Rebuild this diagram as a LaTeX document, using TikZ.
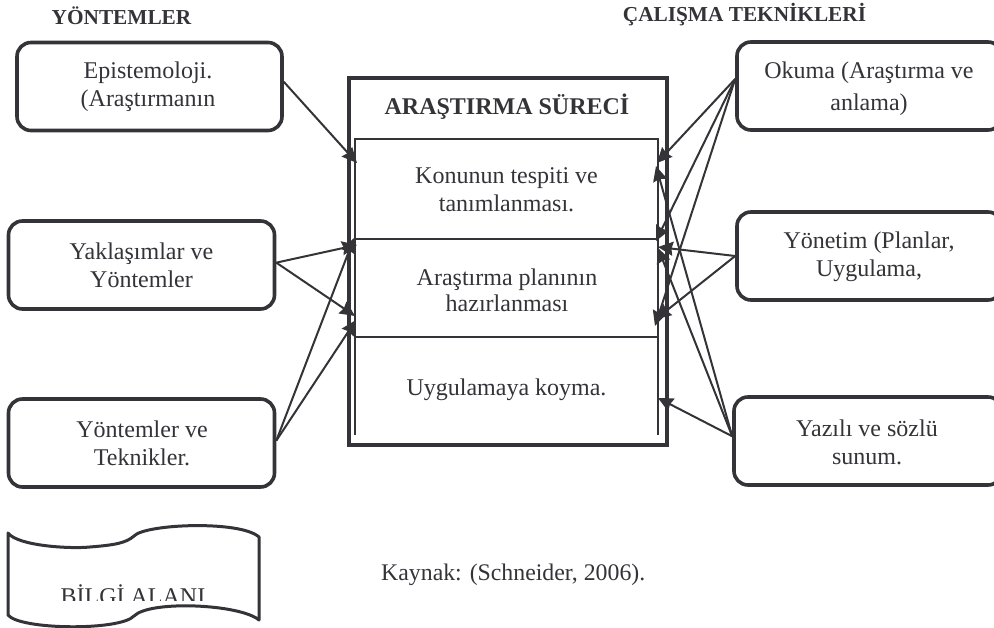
\documentclass[tikz,border=0pt]{standalone}
\usepackage{fontspec}
\setmainfont{Liberation Serif}
\usetikzlibrary{arrows.meta}
\definecolor{ink}{HTML}{333338}
\tikzset{
  x=1pt,y=-1pt,
  boxstyle/.style={draw=ink,line width=3.6pt,rounded corners=14pt,fill=white,inner sep=0pt,minimum width=#1,minimum height=88pt},
  label/.style={text=ink,font=\fontsize{24}{28}\selectfont,align=center,inner sep=0pt},
  head/.style={text=ink,font=\fontsize{21.3}{24}\selectfont\bfseries,inner sep=0pt},
  link/.style={draw=ink,line width=2pt,-{Stealth[length=15pt,width=14pt,inset=1.5pt]}},
  inner/.style={draw=ink,line width=2.2pt},
}
\begin{document}
\begin{tikzpicture}
\useasboundingbox (0,0) rectangle (994,628);
% main box
\node[draw=ink,line width=4.5pt,minimum width=318pt,minimum height=367pt,inner sep=0pt] (main) at (508,261.5) {};
\draw[inner] (355,435) -- (355,139) -- (658,139) -- (658,435);
\draw[inner] (355,239) -- (658,239);
\draw[inner] (355,337) -- (658,337);
% boxes
\node[boxstyle=265pt] (epi) at (149.5,86.5) {};
\node[boxstyle=266pt] (yak) at (141.5,265) {};
\node[boxstyle=266pt] (yon) at (141.5,443) {};
\node[boxstyle=265pt] (oku) at (869.5,86) {};
\node[boxstyle=265pt] (yot) at (869.5,256) {};
\node[boxstyle=268pt] (yaz) at (868,441) {};
% texts
\node[head] (h1) at (121.5,16) {YÖNTEMLER};
\node[head] (h2) at (744.5,15) {ÇALIŞMA TEKNİKLERİ};
\node[label] (t1) at (148,87) {Epistemoloji.\\(Araştırmanın};
\node[label] (t2) at (141.5,265) {Yaklaşımlar ve\\Yöntemler};
\node[label] (t3) at (142,443) {Yöntemler ve\\Teknikler.};
\node[label,font=\fontsize{24}{32}\selectfont] (t4) at (869,89) {Okuma (Araştırma ve\\anlama)};
\node[label] (t5) at (869,256.5) {Yönetim (Planlar,\\Uygulama,};
\node[label] (t6) at (867,442) {Yazılı ve sözlü\\sunum.};
\node[label,font=\fontsize{24}{28}\selectfont\bfseries] (title) at (507,107) {ARAŞTIRMA SÜRECİ};
\node[label] (s1) at (506.5,190) {Konunun tespiti ve\\tanımlanması.};
\node[label,font=\fontsize{24}{26}\selectfont] (s2) at (507,290) {Araştırma planının\\hazırlanması};
\node[label] (s3) at (506.5,390) {Uygulamaya koyma.};
\node[label,anchor=west,font=\fontsize{23.8}{28}\selectfont] (src) at (381,575) {Kaynak: (Schneider, 2006).};
% targets
\coordinate (a1) at (357,163);
\coordinate (a2) at (357,245);
\coordinate (a2b) at (354,238);
\coordinate (a3) at (355,316);
\coordinate (a4) at (356,320);
\coordinate (b1) at (657,163);
\coordinate (b2) at (656,241);
\coordinate (b3) at (658,247);
\coordinate (b4) at (655,326);
\coordinate (b5) at (656,319);
\coordinate (c1) at (656,166);
\coordinate (c2) at (658,248);
\coordinate (c3) at (658,398);
% connectors
\draw[link] (epi.2.6) -- (a1);
\draw[link] (yak.1.3) -- (a2);
\draw[link] (yak.1.3) -- (a3);
\draw[link] (yon.1.3) -- (a2b);
\draw[link] (yon.1.3) -- (a4);
\draw[link] (oku.177.4) -- (b1);
\draw[link] (oku.177.4) -- (b2);
\draw[link] (oku.177.4) -- (b4);
\draw[link] (yot.west) -- (b3);
\draw[link] (yot.west) -- (b5);
\draw[link] (yaz.178.3) -- (c1);
\draw[link] (yaz.178.3) -- (c2);
\draw[link] (yaz.178.3) -- (c3);
% knowledge area
\begin{scope}
\clip (0,500) rectangle (300,600.5);
\node[label] (bilgi) at (133,595) {BİLGİ ALANI};
\end{scope}
\draw[ink,line width=3pt,line join=round] (8,533)
  .. controls (18,546) and (70,549) .. (90,547)
  .. controls (115,545) and (126,543) .. (134,536)
  .. controls (145,524) and (240,520) .. (259,537)
  -- (259,620)
  .. controls (240,604) and (150,600) .. (134,616)
  .. controls (120,631) and (20,630) .. (8,615) -- cycle;
\end{tikzpicture}
\end{document}
